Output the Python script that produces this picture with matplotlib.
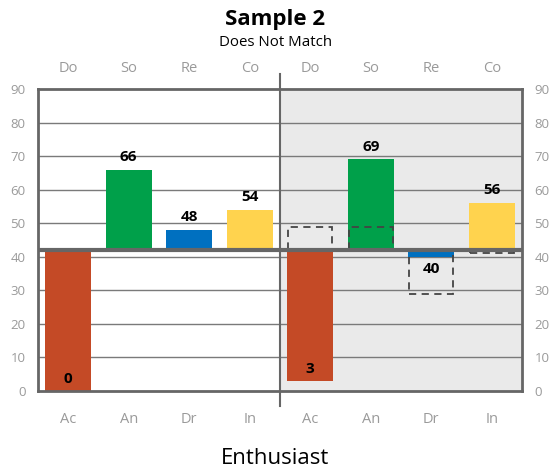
import matplotlib.pyplot as plt
from matplotlib.patches import Rectangle

plt.rcParams['font.family'] = ['Open Sans', 'DejaVu Sans']

# data
bottom_labels = ["Ac", "An", "Dr", "In"]
top_labels = ["Do", "So", "Re", "Co"]
left_values = [0, 66, 48, 54]
right_values = [3, 69, 40, 56]
baseline = 42
ref_low = [42, 42, 29, 41]
ref_high = [49, 49, 42, 42]
bar_colors = ["#C44A26", "#00A04A", "#0070C0", "#FFD34E"]

fig = plt.figure(figsize=(5.51, 4.74), dpi=100)
ax = fig.add_axes([38 / 551, 83 / 474, 484 / 551, 302 / 474])
ax.set_xlim(0, 8)
ax.set_ylim(0, 90)

# right half background
ax.axvspan(4, 8, color="#EAEAEA", zorder=0)

# gridlines
for y in range(10, 90, 10):
    ax.axhline(y, color="#7a7a7a", lw=1, zorder=1)

grey = "#666666"
for s in ax.spines.values():
    s.set_color(grey)
    s.set_linewidth(2)

# bars
all_values = left_values + right_values
xs = [i + 0.5 for i in range(8)]
for i, v in enumerate(all_values):
    c = bar_colors[i % 4]
    ax.bar(xs[i], v - baseline, bottom=baseline, width=0.76, color=c, zorder=2)
    if v >= baseline:
        ty = v + 3.8
    elif v - 3.5 < 3:
        ty = v + 3.7
    else:
        ty = v - 3.5
    ax.text(xs[i], ty, str(v), ha="center", va="center", fontsize=11,
            fontweight="bold", color="black", zorder=5)

# reference boxes on right panel
for i in range(4):
    r = Rectangle((xs[4 + i] - 0.36, ref_low[i]), 0.72, ref_high[i] - ref_low[i],
                  fill=False, ls=(0, (4, 3)), lw=1.3, edgecolor="#444444", zorder=3)
    ax.add_patch(r)

ax.axhline(baseline, color=grey, lw=3, zorder=4)

# divider
ax.plot([4, 4], [-4.5, 94.5], color=grey, lw=1.5, clip_on=False, zorder=6)

# tick labels
ax.set_xticks(xs)
ax.set_xticklabels(bottom_labels * 2, color="#9a9a9a", fontsize=10.5)
ax.tick_params(axis="x", length=0, pad=15)
ax.set_yticks(range(0, 100, 10))
ax.set_yticklabels([str(y) for y in range(0, 100, 10)], color="#9a9a9a", fontsize=9.5)
ax.tick_params(axis="y", length=0, pad=9, labelright=True)

ax2 = ax.secondary_xaxis("top")
ax2.set_xticks(xs)
ax2.set_xticklabels(top_labels * 2, color="#9a9a9a", fontsize=10.5)
ax2.tick_params(length=0, pad=9.5)
ax2.spines["top"].set_visible(False)

fig.text(0.5, 1 - 19 / 474, "Sample 2", ha="center", va="center",
         fontsize=16, fontweight="bold")
fig.text(0.5, 1 - 42 / 474, "Does Not Match", ha="center", va="center", fontsize=10.8)
fig.text(0.5, 1 - 459 / 474, "Enthusiast", ha="center", va="center", fontsize=16)

fig.savefig("out.png", dpi=100)
